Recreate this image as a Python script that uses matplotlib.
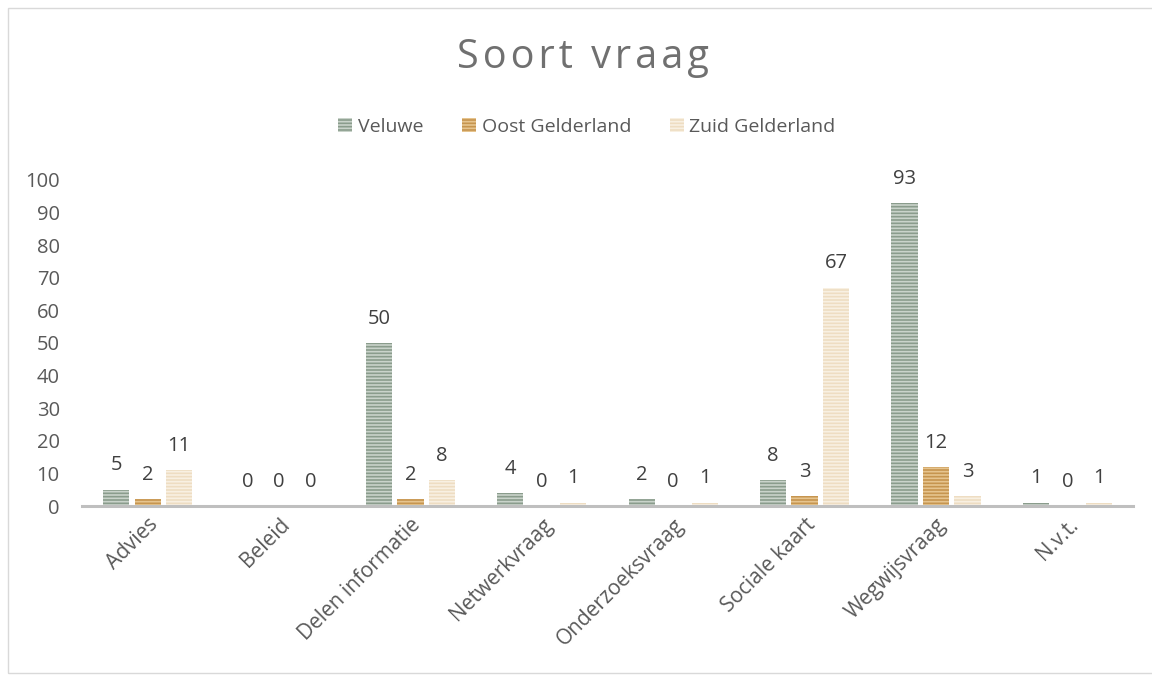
import matplotlib.pyplot as plt
import numpy as np

categories = ['Advies', 'Beleid', 'Delen informatie', 'Netwerkvraag',
              'Onderzoeksvraag', 'Sociale kaart', 'Wegwijsvraag', 'N.v.t.']
series_names = ['Veluwe', 'Oost Gelderland', 'Zuid Gelderland']
veluwe = [5, 0, 50, 4, 2, 8, 93, 1]
oost = [2, 0, 2, 0, 0, 3, 12, 0]
zuid = [11, 0, 8, 1, 1, 67, 3, 1]
yticks = [0, 10, 20, 30, 40, 50, 60, 70, 80, 90, 100]

colors = ['#8A9C8C', '#C6954F', '#EEDDC2']
stripe = ['#C9D3CA', '#E6C48E', '#F8F0E2']

plt.rcParams['font.family'] = ['Open Sans', 'DejaVu Sans']
plt.rcParams['hatch.linewidth'] = 1.2

fig = plt.figure(figsize=(11.52, 6.75), dpi=100)
ax = fig.add_axes([82 / 1152, 1 - 506 / 675, 1051 / 1152, 326 / 675])

x = np.arange(len(categories))
width = 0.2
offsets = [-0.24, 0, 0.24]
for vals, name, c, s, off in zip([veluwe, oost, zuid], series_names, colors, stripe, offsets):
    bars = ax.bar(x + off, vals, width, color=c, edgecolor=s, linewidth=0,
                  hatch='-----', label=name)
    for b, v in zip(bars, vals):
        ax.annotate(str(v), (b.get_x() + b.get_width() / 2, v), xytext=(0, 17.5),
                    textcoords='offset points', ha='center', va='center',
                    fontsize=14.5, color='#404040')

ax.set_xlim(-0.5, len(categories) - 0.5)
ax.set_ylim(0, 100)
ax.set_yticks(yticks)
ax.tick_params(axis='y', length=0, labelsize=14.5, labelcolor='#595959', pad=16)
ax.tick_params(axis='x', length=0, labelsize=15, labelcolor='#595959', pad=6)
ax.set_xticks(x)
ax.set_xticklabels(categories, rotation=45, ha='right', rotation_mode='anchor')
for sp in ['top', 'right', 'left']:
    ax.spines[sp].set_visible(False)
ax.spines['bottom'].set_color('#BFBFBF')
ax.spines['bottom'].set_linewidth(2.2)

title = '\u200a'.join('Soort vraag')
fig.text(583 / 1152, 1 - 58 / 675, title, ha='center', va='center',
         fontsize=28.5, color='#707070')
ax.legend(loc='center', bbox_to_anchor=(505 / 1051, (506 - 127) / 326), ncol=3,
          frameon=False, fontsize=14, labelcolor='#595959', handlelength=0.7,
          handleheight=0.7, columnspacing=2.0, handletextpad=0.3)

# kader rond de grafiek
fig.patches.append(plt.Rectangle((8 / 1152, 0.003), 1150 / 1152, 1 - 8 / 675 - 0.003,
                                 transform=fig.transFigure, fill=False,
                                 edgecolor='#D9D9D9', linewidth=1))

fig.savefig('out.png', dpi=100)
